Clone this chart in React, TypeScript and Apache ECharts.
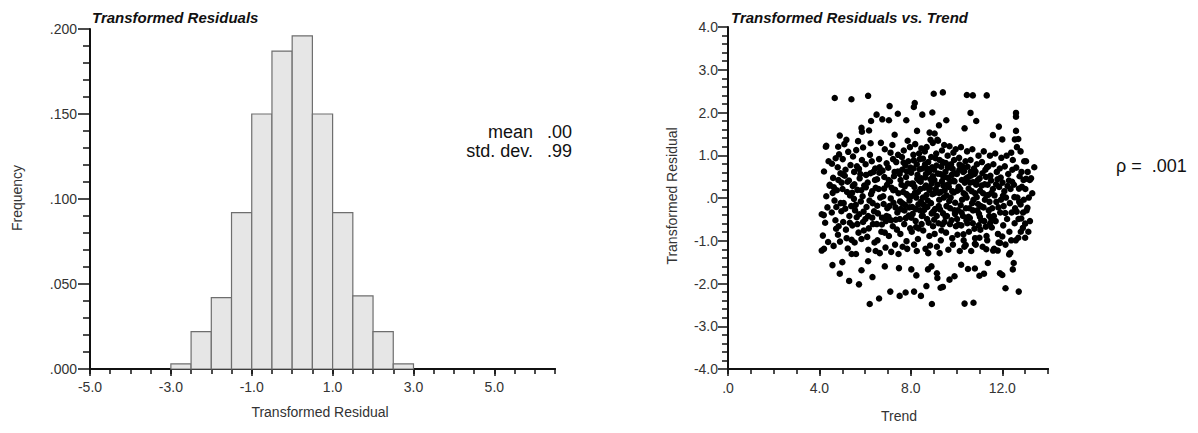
import React, { useEffect, useRef } from "react";
import * as echarts from "echarts";

// Histogram of transformed residuals: bin edges and relative frequencies
const binStarts = [-3.0, -2.5, -2.0, -1.5, -1.0, -0.5, 0.0, 0.5, 1.0, 1.5, 2.0, 2.5];
const binWidth = 0.5;
const binFreq = [0.003, 0.022, 0.042, 0.092, 0.150, 0.187, 0.196, 0.150, 0.092, 0.043, 0.022, 0.003];

const histXMajor = [-5, -3, -1, 1, 3, 5];
const trendXMajor = [0, 4, 8, 12];

const histStats = [
  ["mean", ".00"],
  ["std. dev.", ".99"],
];
const rhoText = "ρ =  .001";

// Transformed residuals vs. trend: [trend, residual]
const outerPoints: number[][] = [
  [4.67, 2.34], [5.4, 2.31], [6.13, 2.39], [9.0, 2.44], [9.4, 2.47], [10.45, 2.41], [10.71, 2.4], [11.32, 2.4],
  [12.6, 1.99], [12.6, 1.9], [7.07, 2.15], [8.17, 2.22], [8.13, 2.13], [6.5, 1.95], [7.43, 1.97], [8.5, 1.95],
  [8.94, 2.0], [10.61, 1.99], [10.86, 1.8], [9.55, 1.82], [9.23, 1.7], [6.26, 1.8], [6.75, 1.84], [7.04, 1.82],
  [7.8, 1.82], [5.84, 1.64], [5.86, 1.55], [6.17, 1.58], [7.29, 1.48], [8.27, 1.57], [8.82, 1.53], [9.04, 1.51],
  [10.35, 1.63], [11.85, 1.67], [11.59, 1.47], [12.6, 1.57], [12.55, 1.37], [12.7, 1.38], [4.89, 1.46], [5.18, 1.36],
  [4.28, 1.2], [4.82, 1.2], [13.4, 0.72], [13.04, 0.45], [13.2, 0.42], [12.39, 1.06], [12.8, 1.09], [12.0, 1.37],
  [4.45, 0.29],
  [4.19, -0.4], [4.1, -1.23], [4.2, -1.19], [4.38, -1.03], [4.57, -1.57], [5.0, -1.5], [4.89, -1.77], [5.3, -1.94],
  [5.73, -2.02], [5.41, -1.31], [5.6, -1.31], [5.84, -1.69], [6.13, -1.48], [6.32, -1.85], [6.2, -2.48], [6.61, -2.35],
  [6.86, -1.6], [7.1, -2.19], [7.48, -1.64], [7.51, -2.29], [7.77, -2.21], [8.02, -1.67], [8.14, -2.19], [8.24, -1.81],
  [8.44, -2.29], [8.68, -2.06], [8.92, -2.48], [8.75, -1.67], [9.14, -1.76], [9.16, -1.87], [8.9, -1.6], [9.3, -2.1],
  [9.4, -2.08], [9.69, -1.91], [9.91, -1.83], [10.2, -1.56], [10.5, -1.66], [10.8, -1.65], [10.35, -2.47], [10.74, -2.45],
  [11.0, -1.82], [11.2, -1.77], [11.37, -1.52], [11.9, -1.76], [12.0, -1.8], [12.14, -2.11], [12.3, -1.32], [12.35, -1.28],
  [12.46, -1.67], [12.5, -1.52], [12.72, -2.19], [12.7, -0.93], [13.0, -0.93], [12.9, -0.7], [13.0, -0.6], [13.1, -0.23],
  [12.8, -0.15], [12.0, -0.9], [11.9, -1.05], [11.6, -1.23], [11.8, -1.23], [11.3, -1.2], [10.8, -1.07], [11.0, -0.93],
  [10.4, -1.1], [10.3, -0.85],
];

const corePoints: number[][] = [
  [4.1, -0.38], [4.2, 0.62], [4.3, 0.04], [4.25, -0.58], [4.4, 0.86], [4.35, -0.22], [4.45, 0.31], [4.15, -0.88], [4.3, 1.22],
  [4.55, 0.8], [4.6, 0.47], [4.66, -0.06], [4.7, -0.52], [4.76, 0.18], [4.81, -0.86], [4.86, 1.02], [4.62, -1.12], [4.92, 0.58],
  [4.96, -0.31], [4.71, 0.93], [4.84, -0.66], [4.58, 0.12], [4.74, -0.21], [4.97, 0.36], [4.8, 0.72], [4.9, -1.02], [4.54, -0.34],
  [5.02, 0.91], [5.06, -0.12], [5.11, 0.52], [5.16, -0.74], [5.21, 0.14], [5.26, 1.08], [5.31, -0.42], [5.36, 0.77], [5.41, -0.98],
  [5.46, 0.28], [5.04, -0.56], [5.19, -0.94], [5.29, 0.41], [5.39, -0.19], [5.14, 0.66], [5.44, -0.64], [5.09, 1.26], [5.34, 0.06],
  [5.24, -1.18], [5.01, 0.21], [5.47, 0.97],
  [5.52, 0.61], [5.56, -0.29], [5.61, 1.12], [5.66, 0.19], [5.71, -0.81], [5.76, 0.46], [5.81, -0.08], [5.86, 0.89], [5.91, -0.56],
  [5.96, 0.29], [5.54, -1.04], [5.64, 0.74], [5.74, -0.38], [5.84, -0.96], [5.89, 0.04], [5.59, -0.16], [5.69, 1.33], [5.79, 0.56],
  [5.94, -0.76], [5.51, -0.02], [5.66, -0.61], [5.91, 1.18],
  [6.02, 0.79], [6.06, -0.21], [6.11, 0.36], [6.16, -0.71], [6.21, 1.01], [6.26, 0.09], [6.31, -0.46], [6.36, 0.61], [6.41, -1.04],
  [6.46, 0.24], [6.04, 0.54], [6.14, -1.21], [6.19, -0.06], [6.29, 0.86], [6.39, -0.31], [6.09, -0.91], [6.24, 1.28], [6.34, -0.61],
  [6.44, 0.69], [6.01, -0.49], [6.31, 0.16], [6.46, -1.24],
  [6.52, 0.44], [6.56, -0.36], [6.61, 0.91], [6.66, 0.01], [6.71, -0.79], [6.76, 0.64], [6.81, -0.14], [6.86, 1.14], [6.91, -0.54],
  [6.96, 0.31], [6.54, -0.99], [6.59, 0.21], [6.69, 1.29], [6.74, -0.46], [6.84, 0.49], [6.89, -1.16], [6.94, 0.81], [6.51, -0.61],
  [6.64, -1.29], [6.79, 0.04], [6.97, -0.24], [6.62, 0.59], [6.86, -0.81],
  [7.01, 0.71], [7.06, -0.19], [7.11, 1.06], [7.16, 0.24], [7.21, -0.66], [7.26, 0.51], [7.31, -1.09], [7.36, 0.84], [7.41, -0.34],
  [7.46, 0.11], [7.04, -0.89], [7.09, 0.39], [7.19, 1.24], [7.24, -0.11], [7.29, 0.61], [7.39, -0.74], [7.44, 1.01], [7.02, -0.44],
  [7.14, -1.26], [7.31, 0.19], [7.34, -0.51], [7.46, -1.31], [7.12, -0.01], [7.22, 0.91],
  [7.51, 0.56], [7.56, -0.26], [7.61, 0.96], [7.66, 0.14], [7.71, -0.61], [7.76, 0.76], [7.81, -1.01], [7.86, 0.34], [7.91, -0.41],
  [7.96, 1.19], [7.54, -0.84], [7.59, 0.31], [7.69, 1.11], [7.74, -0.16], [7.79, 0.49], [7.84, -1.19], [7.89, 0.86], [7.94, -0.06],
  [7.52, -0.49], [7.64, -1.14], [7.81, 0.09], [7.97, -0.71], [7.62, 0.66], [7.72, -0.29], [7.86, 1.34],
  [8.01, 0.59], [8.06, -0.21], [8.11, 1.01], [8.16, 0.26], [8.21, -0.54], [8.26, 0.79], [8.31, -0.96], [8.36, 0.41], [8.41, -0.29],
  [8.46, 1.16], [8.04, -0.79], [8.09, 0.34], [8.19, 1.26], [8.24, 0.01], [8.29, 0.54], [8.34, -0.71], [8.39, 0.91], [8.44, -0.09],
  [8.02, -0.46], [8.14, -1.09], [8.31, 0.14], [8.47, -0.61], [8.12, 0.69], [8.22, -0.26], [8.36, 1.04], [8.42, 0.21], [8.03, 0.04],
  [8.26, -1.24], [8.46, 0.46],
  [8.51, 0.69], [8.56, -0.16], [8.61, 1.09], [8.66, 0.29], [8.71, -0.49], [8.76, 0.84], [8.81, -0.89], [8.86, 0.44], [8.91, -0.36],
  [8.96, 1.29], [8.54, -0.76], [8.59, 0.24], [8.69, 1.19], [8.74, -0.06], [8.79, 0.61], [8.84, -1.11], [8.89, 0.96], [8.94, 0.09],
  [8.52, -0.41], [8.64, -1.19], [8.81, 0.19], [8.97, -0.66], [8.62, 0.79], [8.72, -0.21], [8.86, 1.36], [8.91, 0.34], [8.53, 0.01],
  [8.76, -1.29], [8.96, 0.51], [8.66, 0.56],
  [9.01, 0.66], [9.06, -0.26], [9.11, 1.04], [9.16, 0.31], [9.21, -0.59], [9.26, 0.89], [9.31, -0.99], [9.36, 0.39], [9.41, -0.36],
  [9.46, 1.24], [9.04, -0.84], [9.09, 0.21], [9.19, 1.34], [9.24, -0.04], [9.29, 0.56], [9.34, -0.76], [9.39, 0.84], [9.44, 0.01],
  [9.02, -0.51], [9.14, -1.14], [9.31, 0.14], [9.47, -0.56], [9.12, 0.76], [9.22, -0.19], [9.36, 1.11], [9.42, 0.29], [9.03, 0.11],
  [9.26, -1.29], [9.46, 0.49], [9.16, 1.36],
  [9.51, 0.61], [9.56, -0.19], [9.61, 0.99], [9.66, 0.26], [9.71, -0.61], [9.76, 0.79], [9.81, -0.94], [9.86, 0.41], [9.91, -0.29],
  [9.96, 1.14], [9.54, -0.81], [9.59, 0.31], [9.69, 1.21], [9.74, 0.01], [9.79, 0.54], [9.84, -1.09], [9.89, 0.89], [9.94, -0.11],
  [9.52, -0.44], [9.64, -1.21], [9.81, 0.16], [9.97, -0.66], [9.62, 0.71], [9.72, -0.24], [9.86, 1.06], [9.56, 0.06], [9.91, 0.39],
  [10.01, 0.56], [10.06, -0.29], [10.11, 0.94], [10.16, 0.21], [10.21, -0.64], [10.26, 0.74], [10.31, -0.99], [10.36, 0.36],
  [10.41, -0.24], [10.46, 1.09], [10.04, -0.86], [10.09, 0.26], [10.19, 1.19], [10.24, -0.04], [10.29, 0.61], [10.34, -1.14],
  [10.39, 0.86], [10.44, 0.01], [10.02, -0.49], [10.14, -1.24], [10.31, 0.11], [10.47, -0.59], [10.12, 0.66], [10.22, -0.34],
  [10.42, 0.46],
  [10.51, 0.49], [10.56, -0.24], [10.61, 0.89], [10.66, 0.16], [10.71, -0.59], [10.76, 0.69], [10.81, -0.94], [10.86, 0.31],
  [10.91, -0.29], [10.96, 0.99], [10.54, -0.79], [10.59, 0.36], [10.69, 1.14], [10.74, -0.04], [10.79, 0.56], [10.84, -1.09],
  [10.89, 0.79], [10.94, -0.14], [10.52, -0.44], [10.64, -1.24], [10.81, 0.11], [10.97, -0.64], [10.62, 0.61], [10.72, -0.29],
  [11.01, 0.46], [11.06, -0.19], [11.11, 0.84], [11.16, 0.11], [11.21, -0.54], [11.26, 0.66], [11.31, -0.89], [11.36, 0.31],
  [11.41, -0.29], [11.46, 0.99], [11.04, -0.74], [11.09, 0.29], [11.19, 1.09], [11.24, -0.04], [11.29, 0.49], [11.34, -0.99],
  [11.39, 0.74], [11.44, -0.09], [11.02, -0.44], [11.14, -1.14], [11.31, 0.06], [11.47, -0.59],
  [11.51, 0.41], [11.56, -0.24], [11.61, 0.79], [11.66, 0.06], [11.71, -0.54], [11.76, 0.61], [11.81, -0.84], [11.86, 0.26],
  [11.91, -0.34], [11.96, 0.94], [11.54, -0.69], [11.59, 0.21], [11.69, 1.04], [11.74, -0.09], [11.79, 0.44], [11.84, -1.04],
  [11.89, 0.69], [11.94, -0.04], [11.52, -0.49], [11.64, -1.19],
  [12.01, 0.36], [12.06, -0.19], [12.11, 0.74], [12.16, 0.01], [12.21, -0.49], [12.26, 0.56], [12.31, -0.79], [12.36, 0.21],
  [12.41, -0.34], [12.46, 0.89], [12.04, -0.64], [12.09, 0.16], [12.19, 0.99], [12.29, 0.41], [12.39, -0.99], [12.44, 0.66],
  [12.14, -1.09],
  [12.51, 0.31], [12.56, -0.24], [12.61, 0.71], [12.66, 0.01], [12.71, -0.49], [12.76, 0.51], [12.81, -0.79], [12.86, 0.26],
  [12.91, -0.34], [12.96, 0.86], [12.54, -0.59], [12.64, 1.19], [12.74, -0.09], [12.84, 0.61], [12.59, -0.99], [12.94, -0.04],
  [13.01, 0.21], [13.06, -0.29], [13.11, 0.61], [13.16, 0.01], [13.21, -0.54], [13.26, 0.46], [13.31, 0.11], [13.04, 0.86],
  [13.14, -0.79],
];

// The crowded middle of the cloud
const densePoints: number[][] = [
  [7.55, 0.42], [7.62, -0.12], [7.68, 0.83], [7.73, 0.27], [7.78, -0.47], [7.83, 0.62], [7.88, 0.05], [7.93, -0.22], [7.98, 0.71],
  [8.03, 0.33], [8.08, -0.37], [8.13, 0.88], [8.18, 0.12], [8.23, -0.68], [8.28, 0.45], [8.33, -0.15], [8.38, 0.67], [8.43, 0.38],
  [8.48, -0.42], [8.53, 0.92], [8.58, -0.28], [8.63, 0.48], [8.68, 0.07], [8.73, 0.68], [8.78, -0.58], [8.83, 0.23], [8.88, -0.12],
  [8.93, 0.72], [8.98, -0.32], [9.03, 0.42], [9.08, 0.93], [9.13, -0.42], [9.18, 0.57], [9.23, 0.12], [9.28, -0.27], [9.33, 0.73],
  [9.38, -0.62], [9.43, 0.48], [9.48, 0.18], [9.53, 0.82], [9.58, -0.42], [9.63, 0.47], [9.68, -0.07], [9.73, 0.38], [9.78, -0.52],
  [9.83, 0.68], [9.88, 0.13], [9.93, -0.37], [9.98, 0.58], [10.03, 0.17], [10.08, -0.62], [10.13, 0.78], [10.18, -0.17], [10.23, 0.42],
  [10.28, -0.42], [10.33, 0.63], [10.38, 0.08], [10.43, -0.52], [10.48, 0.73], [10.53, 0.22], [10.58, -0.47], [10.63, 0.52],
  [10.68, -0.12], [10.73, 0.37], [10.78, -0.72], [10.83, 0.62], [10.88, 0.02], [10.93, 0.42], [10.98, -0.37], [11.03, 0.17],
  [11.08, -0.52], [11.13, 0.58], [11.18, -0.22], [11.23, 0.32], [11.28, -0.67], [11.33, 0.72], [11.38, 0.07], [11.43, -0.42],
  [11.48, 0.52],
  [5.03, 0.55], [5.13, -0.25], [5.23, 0.38], [5.33, -0.58], [5.43, 0.12], [5.53, 0.32], [5.63, -0.45], [5.73, 0.68], [5.83, 0.18],
  [5.93, -0.32], [6.03, 0.25], [6.13, -0.42], [6.23, 0.58], [6.33, -0.12], [6.43, 0.42], [6.53, -0.18], [6.63, 0.72], [6.73, -0.62],
  [6.83, 0.22], [6.93, -0.42], [7.03, 0.42], [7.13, -0.52], [7.23, 0.18], [7.33, -0.22], [7.43, 0.62], [7.53, -0.08], [4.63, 0.25],
  [4.73, -0.72], [4.83, 0.42], [4.93, -0.12],
  [11.53, 0.12], [11.63, -0.42], [11.73, 0.32], [11.83, -0.22], [11.93, 0.48], [12.03, 0.05], [12.13, -0.35], [12.23, 0.28],
  [12.33, -0.12], [12.43, 0.38], [12.53, 0.02], [12.63, -0.32], [12.73, 0.22], [12.83, -0.48], [12.93, 0.42],
];

const FONT = "'Liberation Sans', Arial, Helvetica, sans-serif";
const INK = "#111";
const LABEL = "#333";

const fmtFreq = (v: number) => v.toFixed(3).replace(/^0\./, ".");
const fmtOne = (v: number) => v.toFixed(1).replace(/^(-?)0\./, "$1.");

function App() {
  const ref = useRef<HTMLDivElement>(null);

  useEffect(() => {
    if (!ref.current) return;
    const chart = echarts.init(ref.current, null, { renderer: "svg" });

    const axisLine = { show: true, onZero: false, lineStyle: { color: INK, width: 2 } };
    const labelStyle = { color: LABEL, fontSize: 14, fontFamily: FONT };

    const histData = binStarts.map((s, i) => [s, s + binWidth, binFreq[i]]);
    const scatterData = [...outerPoints, ...corePoints, ...densePoints];

    const option: any = {
      animation: false,
      textStyle: { fontFamily: FONT },
      grid: [
        { left: 90, top: 29, width: 465, height: 340 },
        { left: 728, top: 27, width: 320, height: 342 },
      ],
      xAxis: [
        {
          // histogram minor ticks
          type: "value", gridIndex: 0, position: "bottom", min: -5, max: 6.5, interval: 0.5,
          axisLine, splitLine: { show: false },
          axisTick: { show: true, length: 5, lineStyle: { color: INK, width: 1.5 } },
          axisLabel: { show: false },
        },
        {
          // histogram major ticks and labels
          type: "value", gridIndex: 0, position: "bottom", min: -5, max: 6.5,
          axisLine, splitLine: { show: false },
          axisTick: { show: true, length: 7, customValues: histXMajor, lineStyle: { color: INK, width: 1.5 } },
          axisLabel: { ...labelStyle, margin: 11, customValues: histXMajor, formatter: fmtOne },
        },
        {
          type: "value", gridIndex: 1, position: "bottom", min: 0, max: 14, interval: 1,
          axisLine, splitLine: { show: false },
          axisTick: { show: true, length: 5, lineStyle: { color: INK, width: 1.5 } },
          axisLabel: { show: false },
        },
        {
          type: "value", gridIndex: 1, position: "bottom", min: 0, max: 14,
          axisLine, splitLine: { show: false },
          axisTick: { show: true, length: 7, customValues: trendXMajor, lineStyle: { color: INK, width: 1.5 } },
          axisLabel: { ...labelStyle, margin: 12, customValues: trendXMajor, formatter: fmtOne },
        },
      ],
      yAxis: [
        {
          type: "value", gridIndex: 0, min: 0, max: 0.2, interval: 0.05,
          axisLine, splitLine: { show: false },
          axisTick: { show: true, length: 12, lineStyle: { color: INK, width: 1.5 } },
          minorTick: { show: true, splitNumber: 5, length: 7, lineStyle: { color: INK, width: 1.5 } },
          minorSplitLine: { show: false },
          axisLabel: { ...labelStyle, margin: 13, formatter: fmtFreq, padding: [0, 0, 8, 0] },
        },
        {
          type: "value", gridIndex: 1, min: -4, max: 4, interval: 1,
          axisLine, splitLine: { show: false },
          axisTick: { show: true, length: 10, lineStyle: { color: INK, width: 1.5 } },
          minorTick: { show: true, splitNumber: 5, length: 6, lineStyle: { color: INK, width: 1.5 } },
          minorSplitLine: { show: false },
          axisLabel: { ...labelStyle, margin: 10, formatter: fmtOne, padding: [0, 0, 8, 0] },
        },
      ],
      series: [
        {
          type: "custom",
          xAxisIndex: 0,
          yAxisIndex: 0,
          data: histData,
          encode: { x: [0, 1], y: 2 },
          renderItem: (_params: any, api: any) => {
            const top = api.coord([api.value(0), api.value(2)]);
            const bottom = api.coord([api.value(1), 0]);
            return {
              type: "rect",
              shape: { x: top[0], y: top[1], width: bottom[0] - top[0], height: bottom[1] - top[1] },
              style: { fill: "#e6e6e6", stroke: "#6e6e6e", lineWidth: 1.2 },
            };
          },
          z: 1,
        },
        {
          type: "scatter",
          xAxisIndex: 2,
          yAxisIndex: 1,
          data: scatterData,
          symbol: "circle",
          symbolSize: 6.5,
          itemStyle: { color: "#000", opacity: 1 },
        },
      ],
      graphic: [
        {
          type: "text", x: 92, y: 17,
          style: { text: "Transformed Residuals", font: `italic bold 15px ${FONT}`, fill: INK, textVerticalAlign: "middle" },
        },
        {
          type: "text", x: 731, y: 17,
          style: { text: "Transformed Residuals vs. Trend", font: `italic bold 15px ${FONT}`, fill: INK, textVerticalAlign: "middle" },
        },
        ...histStats.flatMap(([name, val], i) => [
          {
            type: "text", x: 533, y: 132 + i * 19,
            style: { text: name, font: `18px ${FONT}`, fill: INK, textAlign: "right", textVerticalAlign: "middle" },
          },
          {
            type: "text", x: 572, y: 132 + i * 19,
            style: { text: val, font: `18px ${FONT}`, fill: INK, textAlign: "right", textVerticalAlign: "middle" },
          },
        ]),
        {
          type: "text", x: 1116, y: 166,
          style: { text: rhoText, font: `18px ${FONT}`, fill: INK, textVerticalAlign: "middle" },
        },
        {
          type: "text", x: 17, y: 198, rotation: Math.PI / 2,
          style: { text: "Frequency", font: `14px ${FONT}`, fill: LABEL, textAlign: "center", textVerticalAlign: "middle" },
        },
        {
          type: "text", x: 320, y: 412,
          style: { text: "Transformed Residual", font: `14px ${FONT}`, fill: LABEL, textAlign: "center", textVerticalAlign: "middle" },
        },
        {
          type: "text", x: 672, y: 196, rotation: Math.PI / 2,
          style: { text: "Transformed Residual", font: `14px ${FONT}`, fill: LABEL, textAlign: "center", textVerticalAlign: "middle" },
        },
        {
          type: "text", x: 899, y: 416,
          style: { text: "Trend", font: `14px ${FONT}`, fill: LABEL, textAlign: "center", textVerticalAlign: "middle" },
        },
      ],
    };

    chart.setOption(option);
    return () => chart.dispose();
  }, []);

  return (
    <div
      ref={ref}
      style={{ position: "absolute", left: 0, top: 0, width: 1198, height: 433, background: "#fff" }}
    />
  );
}

export default App;
